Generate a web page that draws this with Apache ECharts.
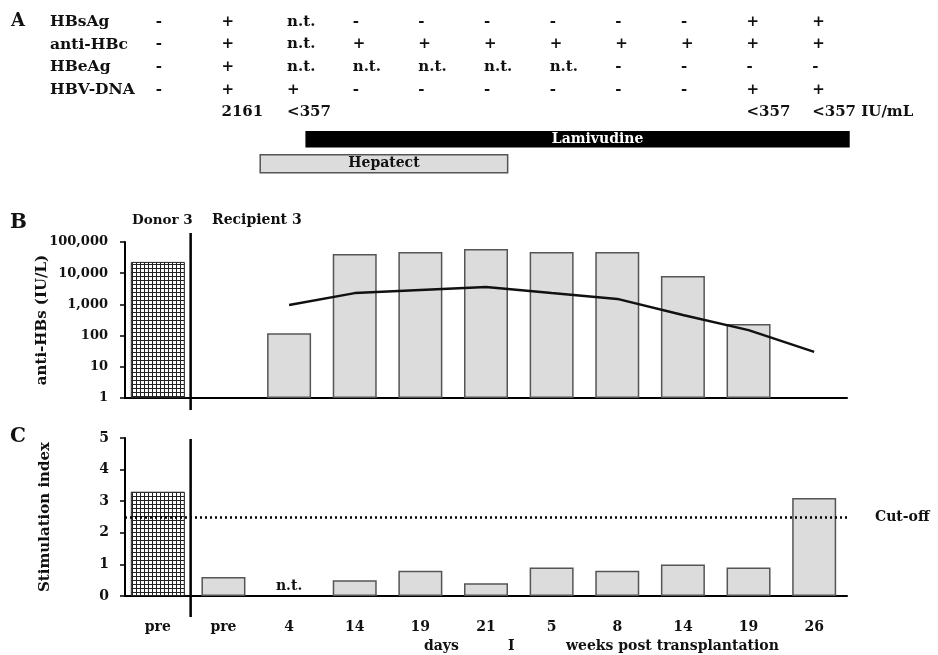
<!DOCTYPE html>
<html><head><meta charset="utf-8">
<script src="https://cdn.jsdelivr.net/npm/echarts@6/dist/echarts.min.js"></script>
<style>html,body{margin:0;padding:0;background:#fff}#c{width:938px;height:655px}</style>
</head><body><div id="c"></div>
<script>
// ---------- data ----------
const categories = ['pre','pre','4','14','19','21','5','8','14','19','26'];
const rowNames = ['HBsAg','anti-HBc','HBeAg','HBV-DNA',''];
const rowHBsAg   = ['-','+','n.t.','-','-','-','-','-','-','+','+'];
const rowAntiHBc = ['-','+','n.t.','+','+','+','+','+','+','+','+'];
const rowHBeAg   = ['-','+','n.t.','n.t.','n.t.','n.t.','n.t.','-','-','-','-'];
const rowHBVDNA  = ['-','+','+','-','-','-','-','-','-','+','+'];
const rowDNAValue = ['','2161','<357','','','','','','','<357','<357 IU/mL'];
const treatmentNames = ['Lamivudine','Hepatect'];
const treatmentStart = [2.76, 2.06];
const treatmentEnd   = [11.03, 5.83];
const donorAntiHBs     = [23000,'-','-','-','-','-','-','-','-','-','-'];
const recipientAntiHBs = ['-','-',120,41000,48000,60000,48000,48000,8100,235,'-'];
const antiHBsTrend     = ['-','-',950,2300,2900,3600,2300,1500,460,150,30];
const donorSI     = [3.3,'-','-','-','-','-','-','-','-','-','-'];
const recipientSI = ['-',0.6,'-',0.5,0.8,0.4,0.9,0.8,1.0,0.9,3.1];
const notTestedSI = ['-','-',0,'-','-','-','-','-','-','-','-'];
const cutOff = 2.5;

// ---------- styles ----------
const FONT = 'DejaVu Serif';
const txt = (size) => ({fontFamily: FONT, fontWeight: 'bold', fontSize: size, color: '#111'});
const G = {left: 125, right: 91};
const barFill = '#dcdcdc', barEdge = '#555';
const clear = 'rgba(0,0,0,0)';
function hatch(){
  const cv = document.createElement('canvas'); cv.width = cv.height = 4;
  const g = cv.getContext('2d');
  g.fillStyle = '#fff'; g.fillRect(0,0,4,4);
  g.fillStyle = '#222'; g.fillRect(0,0,4,1); g.fillRect(0,0,1,4);
  return cv;
}
const treatStyle = {
  Lamivudine: {h: 15, fill: '#000', stroke: '#000', text: '#fff', dx: 20},
  Hepatect:   {h: 18, fill: '#dcdcdc', stroke: '#555', text: '#111', dx: 0}
};

const tableRows = [rowHBsAg, rowAntiHBc, rowHBeAg, rowHBVDNA, rowDNAValue];
const tableData = [];
tableRows.forEach((row, r) => row.forEach((t, c) => { if (t) tableData.push({value: [c, r], name: t}); }));

const chart = echarts.init(document.getElementById('c'), null, {renderer: 'canvas'});
const hidden = {show: false};
const catX = (gi, show) => ({type: 'category', gridIndex: gi, data: categories, show: show,
  axisLine: {show: true, lineStyle: {color: '#000', width: 2}}, axisTick: {show: false},
  axisLabel: {show: false}, splitLine: {show: false}});
const textOnly = {color: clear, opacity: 1};

chart.setOption({
  animation: false,
  grid: [
    {left: G.left, right: G.right, top: 10.7, height: 113},
    {left: G.left, right: G.right, top: 127, height: 49},
    {left: G.left, right: G.right, top: 242, height: 156},
    {left: G.left, right: G.right, top: 438, height: 158}
  ],
  xAxis: [
    {type: 'category', gridIndex: 0, data: categories, show: false},
    {type: 'value', gridIndex: 1, min: 0, max: 11, show: false},
    catX(2, true),
    {type: 'category', gridIndex: 2, data: categories, show: false},
    Object.assign(catX(3, true), {axisLabel: Object.assign({show: true, margin: 24}, txt(14))}),
    {type: 'category', gridIndex: 3, data: categories, show: false}
  ],
  yAxis: [
    {type: 'category', gridIndex: 0, data: rowNames, inverse: true,
     axisLine: hidden, axisTick: hidden, splitLine: hidden,
     axisLabel: Object.assign({align: 'left', margin: 75}, txt(15.5))},
    {type: 'category', gridIndex: 1, data: treatmentNames, inverse: true, show: false},
    {type: 'log', gridIndex: 2, min: 1, max: 100000, logBase: 10,
     name: 'anti-HBs (IU/L)', nameLocation: 'middle', nameGap: 75, nameRotate: 90,
     nameMoveOverlap: false, nameTextStyle: txt(15),
     axisLine: {show: true, lineStyle: {color: '#000', width: 2}},
     axisTick: {show: true, length: 5, lineStyle: {color: '#000', width: 1.5}},
     splitLine: hidden, minorTick: hidden,
     axisLabel: Object.assign({margin: 17, formatter: v => Number(v).toLocaleString('en-US')}, txt(13))},
    {type: 'value', gridIndex: 3, min: 0, max: 5, interval: 1,
     name: 'Stimulation index', nameLocation: 'middle', nameGap: 72, nameRotate: 90,
     nameMoveOverlap: false, nameTextStyle: txt(15),
     axisLine: {show: true, lineStyle: {color: '#000', width: 2}},
     axisTick: {show: true, length: 5, lineStyle: {color: '#000', width: 1.5}},
     splitLine: hidden,
     axisLabel: Object.assign({margin: 16}, txt(14))}
  ],
  series: [
    {type: 'scatter', xAxisIndex: 0, yAxisIndex: 0, data: tableData, symbolSize: 2,
     itemStyle: textOnly, silent: true,
     label: Object.assign({show: true, position: 'inside', align: 'left', offset: [-2, 0], opacity: 1,
       formatter: p => p.name}, txt(15))},
    {type: 'custom', xAxisIndex: 1, yAxisIndex: 1, clip: false,
     data: treatmentNames.map((n, i) => ({name: n, value: [treatmentStart[i], treatmentEnd[i], i]})),
     renderItem: (params, api) => {
       const name = treatmentNames[params.dataIndex];
       const st = treatStyle[name];
       const a = api.coord([api.value(0), api.value(2)]);
       const b = api.coord([api.value(1), api.value(2)]);
       return {type: 'group', children: [
         {type: 'rect', shape: {x: a[0], y: a[1] - st.h / 2, width: b[0] - a[0], height: st.h},
          style: {fill: st.fill, stroke: st.stroke, lineWidth: 1.5}},
         {type: 'text', style: {x: (a[0] + b[0]) / 2 + st.dx, y: a[1], text: name, align: 'center',
           verticalAlign: 'middle', fill: st.text, font: 'bold 14px "' + FONT + '"'}}
       ]};
     }},
    {type: 'bar', xAxisIndex: 3, yAxisIndex: 2, data: donorAntiHBs, barWidth: 54,
     itemStyle: {color: {image: hatch(), repeat: 'repeat'}, borderColor: '#222', borderWidth: 1}},
    {type: 'bar', xAxisIndex: 2, yAxisIndex: 2, data: recipientAntiHBs, barWidth: 44,
     itemStyle: {color: barFill, borderColor: barEdge, borderWidth: 1.5}},
    {type: 'line', xAxisIndex: 2, yAxisIndex: 2, data: antiHBsTrend, symbol: 'none',
     lineStyle: {color: '#111', width: 2.5}},
    {type: 'bar', xAxisIndex: 5, yAxisIndex: 3, data: donorSI, barWidth: 54,
     itemStyle: {color: {image: hatch(), repeat: 'repeat'}, borderColor: '#222', borderWidth: 1}},
    {type: 'bar', xAxisIndex: 4, yAxisIndex: 3, data: recipientSI, barWidth: 44,
     itemStyle: {color: barFill, borderColor: barEdge, borderWidth: 1.5},
     markLine: {silent: true, symbol: 'none', data: [{yAxis: cutOff}],
       lineStyle: {color: '#000', type: [2, 3], width: 2.5},
       label: Object.assign({show: true, position: 'end', distance: 28, formatter: 'Cut-off'}, txt(14))}},
    {type: 'scatter', xAxisIndex: 4, yAxisIndex: 3, data: notTestedSI, symbolSize: 2,
     itemStyle: textOnly, silent: true,
     label: Object.assign({show: true, position: 'top', distance: 2, opacity: 1, formatter: 'n.t.'}, txt(14))}
  ]
});

// divider between donor and recipient, placed at the category boundary
const xa = chart.convertToPixel({xAxisIndex: 2}, 0), xb = chart.convertToPixel({xAxisIndex: 2}, 1);
const xDiv = (xa + xb) / 2;
const bTop = chart.convertToPixel({yAxisIndex: 2}, 100000), bBot = chart.convertToPixel({yAxisIndex: 2}, 1);
const cTop = chart.convertToPixel({yAxisIndex: 3}, 5), cBot = chart.convertToPixel({yAxisIndex: 3}, 0);
const panelText = (t, x, y, size) => ({type: 'text', left: x, top: y,
  style: {text: t, font: 'bold ' + size + 'px "' + FONT + '"', fill: '#111'}});
chart.setOption({graphic: [
  {type: 'line', shape: {x1: xDiv, y1: bTop - 9, x2: xDiv, y2: bBot + 12}, style: {stroke: '#000', lineWidth: 2.5}},
  {type: 'line', shape: {x1: xDiv, y1: cTop + 1, x2: xDiv, y2: cBot + 21}, style: {stroke: '#000', lineWidth: 2.5}},
  panelText('A', 11, 12, 18),
  panelText('B', 10, 213, 20),
  panelText('C', 10, 427, 20),
  panelText('Donor 3', 132, 213, 13.5),
  panelText('Recipient 3', 212, 213, 14),
  panelText('days', 424, 639, 14),
  panelText('I', 508, 639, 14),
  panelText('weeks post transplantation', 566, 639, 14)
]});
</script></body></html>
